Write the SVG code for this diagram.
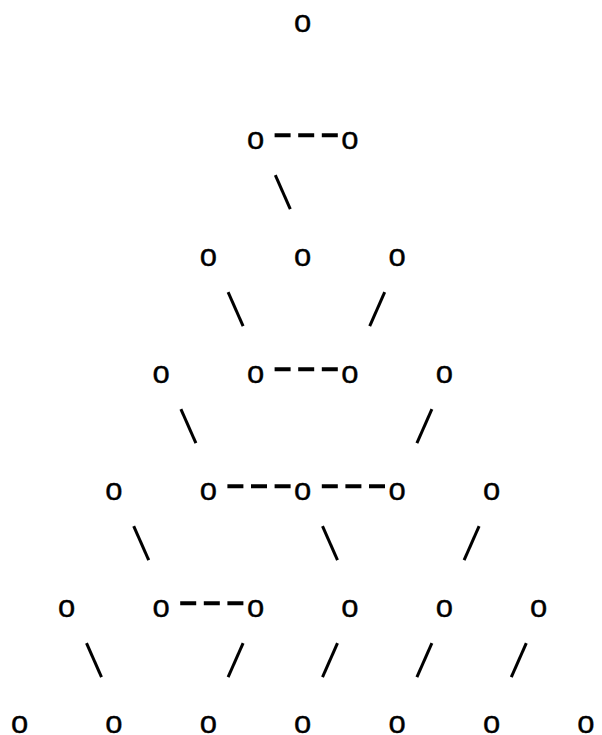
<svg xmlns="http://www.w3.org/2000/svg" width="602" height="735" viewBox="0 0 602 735">
<style>
.o{font-family:"Liberation Sans",Arial,sans-serif;font-size:31px;text-anchor:middle;fill:#000;stroke:#000;stroke-width:0.4}
.e{stroke:#000;stroke-width:3;fill:none}
.d{stroke:#000;stroke-width:4;stroke-dasharray:16 7.6;fill:none}
</style>
<rect width="602" height="735" fill="#fff"/>
<g id="connectors">
<line class="d" x1="274.6" y1="135.3" x2="337.8" y2="135.3"/>
<line class="d" x1="274.6" y1="369.3" x2="337.8" y2="369.3"/>
<line class="d" x1="227.4" y1="486.3" x2="290.6" y2="486.3"/>
<line class="d" x1="321.8" y1="486.3" x2="385" y2="486.3"/>
<line class="d" x1="180.2" y1="603.3" x2="243.4" y2="603.3"/>
<line class="e" x1="275.3" y1="175.2" x2="290.3" y2="209.2"/>
<line class="e" x1="228.1" y1="292.2" x2="243.1" y2="326.2"/>
<line class="e" x1="384.7" y1="292.2" x2="369.7" y2="326.2"/>
<line class="e" x1="180.9" y1="409.2" x2="195.9" y2="443.2"/>
<line class="e" x1="431.9" y1="409.2" x2="416.9" y2="443.2"/>
<line class="e" x1="133.7" y1="526.2" x2="148.7" y2="560.2"/>
<line class="e" x1="322.5" y1="526.2" x2="337.5" y2="560.2"/>
<line class="e" x1="479.1" y1="526.2" x2="464.1" y2="560.2"/>
<line class="e" x1="86.5" y1="643.2" x2="101.5" y2="677.2"/>
<line class="e" x1="243.1" y1="643.2" x2="228.1" y2="677.2"/>
<line class="e" x1="337.5" y1="643.2" x2="322.5" y2="677.2"/>
<line class="e" x1="431.9" y1="643.2" x2="416.9" y2="677.2"/>
<line class="e" x1="526.3" y1="643.2" x2="511.3" y2="677.2"/>
</g>
<g id="n0_12"><text class="o" x="302.7" y="31.5">o</text></g>
<g id="n1_10"><text class="o" x="255.5" y="148.5">o</text></g>
<g id="n1_14"><text class="o" x="349.9" y="148.5">o</text></g>
<g id="n2_8"><text class="o" x="208.3" y="265.5">o</text></g>
<g id="n2_12"><text class="o" x="302.7" y="265.5">o</text></g>
<g id="n2_16"><text class="o" x="397.1" y="265.5">o</text></g>
<g id="n3_6"><text class="o" x="161.1" y="382.5">o</text></g>
<g id="n3_10"><text class="o" x="255.5" y="382.5">o</text></g>
<g id="n3_14"><text class="o" x="349.9" y="382.5">o</text></g>
<g id="n3_18"><text class="o" x="444.3" y="382.5">o</text></g>
<g id="n4_4"><text class="o" x="113.9" y="499.5">o</text></g>
<g id="n4_8"><text class="o" x="208.3" y="499.5">o</text></g>
<g id="n4_12"><text class="o" x="302.7" y="499.5">o</text></g>
<g id="n4_16"><text class="o" x="397.1" y="499.5">o</text></g>
<g id="n4_20"><text class="o" x="491.5" y="499.5">o</text></g>
<g id="n5_2"><text class="o" x="66.7" y="616.5">o</text></g>
<g id="n5_6"><text class="o" x="161.1" y="616.5">o</text></g>
<g id="n5_10"><text class="o" x="255.5" y="616.5">o</text></g>
<g id="n5_14"><text class="o" x="349.9" y="616.5">o</text></g>
<g id="n5_18"><text class="o" x="444.3" y="616.5">o</text></g>
<g id="n5_22"><text class="o" x="538.7" y="616.5">o</text></g>
<g id="n6_0"><text class="o" x="19.5" y="733">o</text></g>
<g id="n6_4"><text class="o" x="113.9" y="733">o</text></g>
<g id="n6_8"><text class="o" x="208.3" y="733">o</text></g>
<g id="n6_12"><text class="o" x="302.7" y="733">o</text></g>
<g id="n6_16"><text class="o" x="397.1" y="733">o</text></g>
<g id="n6_20"><text class="o" x="491.5" y="733">o</text></g>
<g id="n6_24"><text class="o" x="585.9" y="733">o</text></g>
</svg>
